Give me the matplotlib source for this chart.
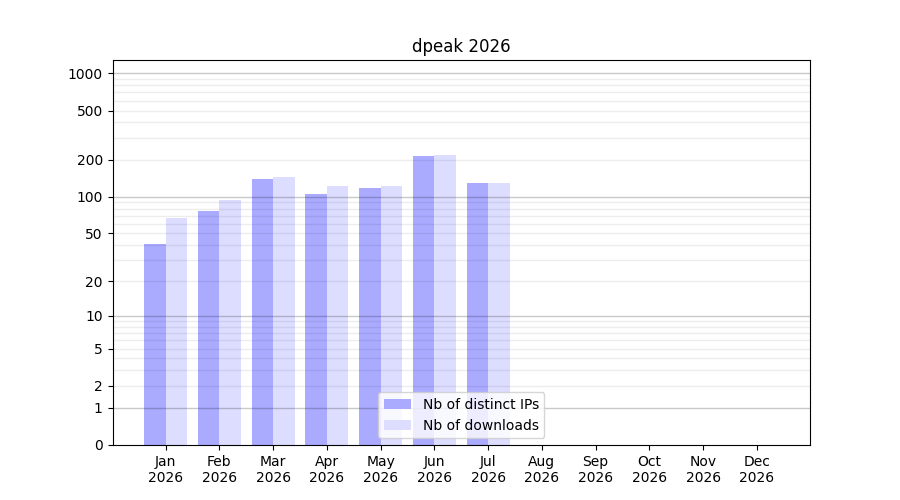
import numpy as np
import matplotlib
matplotlib.use("Agg")
import matplotlib.pyplot as plt

# -------------------------------------------------
# Data
# -------------------------------------------------
months = ["Jan", "Feb", "Mar", "Apr", "May", "Jun",
          "Jul", "Aug", "Sep", "Oct", "Nov", "Dec"]
year = "2026"
distinct_ips = [41, 76, 139, 105, 118, 214, 129, 0, 0, 0, 0, 0]
downloads = [67, 94, 145, 122, 122, 218, 129, 0, 0, 0, 0, 0]
ytick_values = [0, 1, 2, 5, 10, 20, 50, 100, 200, 500, 1000]


def fwd(v):
    return np.log10(1 + np.asarray(v, dtype=float))


def inv(v):
    return 10 ** np.asarray(v, dtype=float) - 1


fig, ax = plt.subplots(figsize=(9, 5), dpi=100)
ax.set_yscale("function", functions=(fwd, inv))

x = np.arange(len(months))
width = 0.4
ax.bar(x - width / 2, distinct_ips, width, color="#aaaaff", label="Nb of distinct IPs")
ax.bar(x + width / 2, downloads, width, color="#ddddff", label="Nb of downloads")

# grid lines: decades darker, in-between lighter (see-through over bars)
for decade in [1, 10, 100]:
    for m in range(2, 10):
        ax.axhline(decade * m, color="black", alpha=0.07, linewidth=1, zorder=2.2)
for decade in [1, 10, 100, 1000]:
    ax.axhline(decade, color="black", alpha=0.21, linewidth=1, zorder=2.2)

ax.set_ylim(0, 1280)
ax.set_yticks(ytick_values)
ax.set_yticklabels([str(v) for v in ytick_values])
ax.minorticks_off()
ax.set_xticks(x)
ax.set_xticklabels([f"{m}\n{year}" for m in months])
ax.set_title("dpeak 2026")
ax.legend(loc="lower center")

fig.savefig("out.png")
